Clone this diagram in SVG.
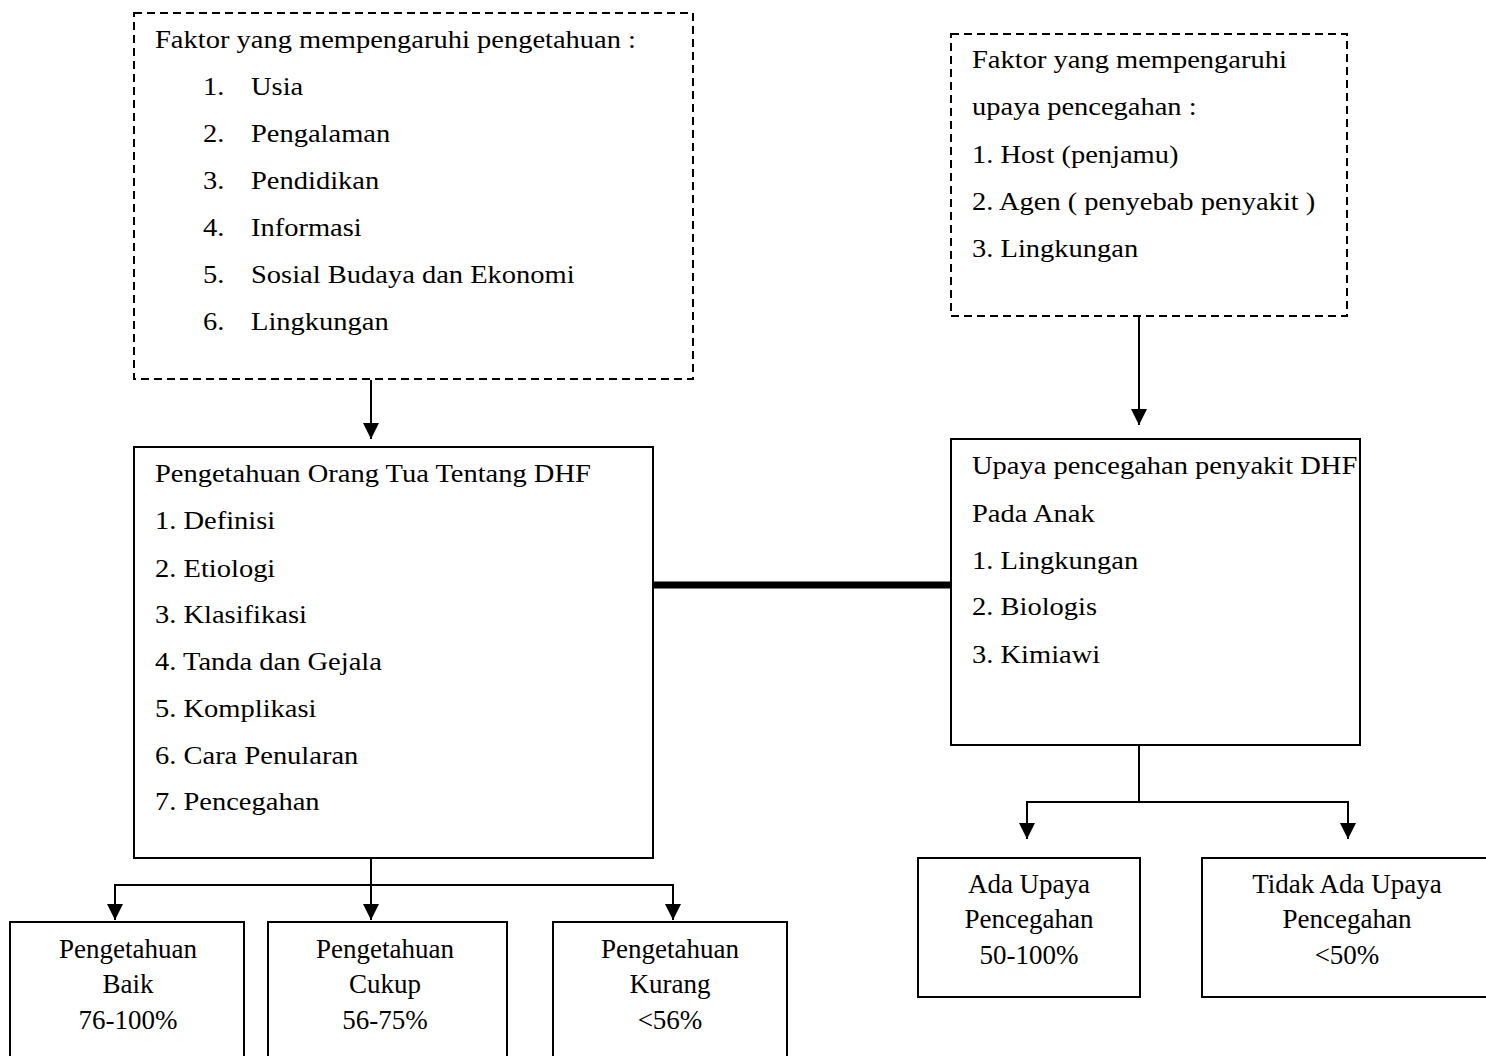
<svg xmlns="http://www.w3.org/2000/svg" width="1486" height="1056" viewBox="0 0 1486 1056">
<defs>
<style>
.bx{fill:#fff;stroke:#000;stroke-width:2}
.dash{fill:#fff;stroke:#000;stroke-width:2;stroke-dasharray:8 5}
.t{font-family:"Liberation Serif","DejaVu Serif",serif;font-size:25px;fill:#000}
.b{font-family:"Liberation Serif","DejaVu Serif",serif;font-size:27px;fill:#000;text-anchor:middle}
.ln{fill:none;stroke:#000;stroke-width:2}
.ar{fill:none;stroke:#000;stroke-width:2;marker-end:url(#ah)}
</style>
<marker id="ah" markerUnits="userSpaceOnUse" markerWidth="16" markerHeight="16" refX="16" refY="8" orient="auto" viewBox="0 0 16 16">
<path d="M0,0 L16,8 L0,16 z" fill="#000"/>
</marker>
</defs>
<rect width="1486" height="1056" fill="#fff"/>

<g id="faktor-pengetahuan">
<rect class="dash" x="134" y="13" width="559" height="366"/>
<text class="t" transform="matrix(1.14 0 0 1 155 48)">Faktor yang mempengaruhi pengetahuan :</text>
<text class="t" transform="matrix(1.14 0 0 1 203 95)">1.</text><text class="t" transform="matrix(1.14 0 0 1 251 95)">Usia</text>
<text class="t" transform="matrix(1.14 0 0 1 203 142)">2.</text><text class="t" transform="matrix(1.14 0 0 1 251 142)">Pengalaman</text>
<text class="t" transform="matrix(1.14 0 0 1 203 189)">3.</text><text class="t" transform="matrix(1.14 0 0 1 251 189)">Pendidikan</text>
<text class="t" transform="matrix(1.14 0 0 1 203 236)">4.</text><text class="t" transform="matrix(1.14 0 0 1 251 236)">Informasi</text>
<text class="t" transform="matrix(1.14 0 0 1 203 283)">5.</text><text class="t" transform="matrix(1.14 0 0 1 251 283)">Sosial Budaya dan Ekonomi</text>
<text class="t" transform="matrix(1.14 0 0 1 203 330)">6.</text><text class="t" transform="matrix(1.14 0 0 1 251 330)">Lingkungan</text>
</g>

<g id="faktor-upaya">
<rect class="dash" x="951" y="34" width="396" height="282"/>
<text class="t" transform="matrix(1.14 0 0 1 972 68)">Faktor yang mempengaruhi</text>
<text class="t" transform="matrix(1.14 0 0 1 972 115)">upaya pencegahan :</text>
<text class="t" transform="matrix(1.14 0 0 1 972 163)">1. Host (penjamu)</text>
<text class="t" transform="matrix(1.14 0 0 1 972 210)">2. Agen ( penyebab penyakit )</text>
<text class="t" transform="matrix(1.14 0 0 1 972 257)">3. Lingkungan</text>
</g>

<g id="pengetahuan">
<rect class="bx" x="134" y="447" width="519" height="411"/>
<text class="t" transform="matrix(1.14 0 0 1 155 482)">Pengetahuan Orang Tua Tentang DHF</text>
<text class="t" transform="matrix(1.14 0 0 1 155 529)">1. Definisi</text>
<text class="t" transform="matrix(1.14 0 0 1 155 577)">2. Etiologi</text>
<text class="t" transform="matrix(1.14 0 0 1 155 623)">3. Klasifikasi</text>
<text class="t" transform="matrix(1.14 0 0 1 155 670)">4. Tanda dan Gejala</text>
<text class="t" transform="matrix(1.14 0 0 1 155 717)">5. Komplikasi</text>
<text class="t" transform="matrix(1.14 0 0 1 155 764)">6. Cara Penularan</text>
<text class="t" transform="matrix(1.14 0 0 1 155 810)">7. Pencegahan</text>
</g>

<g id="upaya">
<rect class="bx" x="951" y="439" width="409" height="306"/>
<text class="t" transform="matrix(1.14 0 0 1 972 474)">Upaya pencegahan penyakit DHF</text>
<text class="t" transform="matrix(1.14 0 0 1 972 522)">Pada Anak</text>
<text class="t" transform="matrix(1.14 0 0 1 972 569)">1. Lingkungan</text>
<text class="t" transform="matrix(1.14 0 0 1 972 615)">2. Biologis</text>
<text class="t" transform="matrix(1.14 0 0 1 972 663)">3. Kimiawi</text>
</g>

<g id="baik">
<rect class="bx" x="10" y="922" width="234" height="150"/>
<text class="b" x="128" y="958">Pengetahuan</text>
<text class="b" x="128" y="993">Baik</text>
<text class="b" x="128" y="1029">76-100%</text>
</g>
<g id="cukup">
<rect class="bx" x="268" y="922" width="239" height="150"/>
<text class="b" x="385" y="958">Pengetahuan</text>
<text class="b" x="385" y="993">Cukup</text>
<text class="b" x="385" y="1029">56-75%</text>
</g>
<g id="kurang">
<rect class="bx" x="553" y="922" width="234" height="150"/>
<text class="b" x="670" y="958">Pengetahuan</text>
<text class="b" x="670" y="993">Kurang</text>
<text class="b" x="670" y="1029">&lt;56%</text>
</g>
<g id="ada-upaya">
<rect class="bx" x="918" y="858" width="222" height="139"/>
<text class="b" x="1029" y="893">Ada Upaya</text>
<text class="b" x="1029" y="928">Pencegahan</text>
<text class="b" x="1029" y="964">50-100%</text>
</g>
<g id="tidak-ada-upaya">
<rect class="bx" x="1202" y="858" width="300" height="139"/>
<text class="b" x="1347" y="893">Tidak Ada Upaya</text>
<text class="b" x="1347" y="928">Pencegahan</text>
<text class="b" x="1347" y="964">&lt;50%</text>
</g>

<g id="connectors">
<path class="ar" d="M371,380 V439"/>
<path class="ar" d="M1139,316 V425"/>
<path d="M652,585 H951" stroke="#000" stroke-width="7" fill="none"/>
<path class="ln" d="M371,858 V885 M115,885 H673 M1139,745 V802 M1027,802 H1348"/>
<path class="ar" d="M115,884 V920"/>
<path class="ar" d="M371,884 V920"/>
<path class="ar" d="M673,884 V920"/>
<path class="ar" d="M1027,801 V839"/>
<path class="ar" d="M1348,801 V839"/>
</g>
</svg>
